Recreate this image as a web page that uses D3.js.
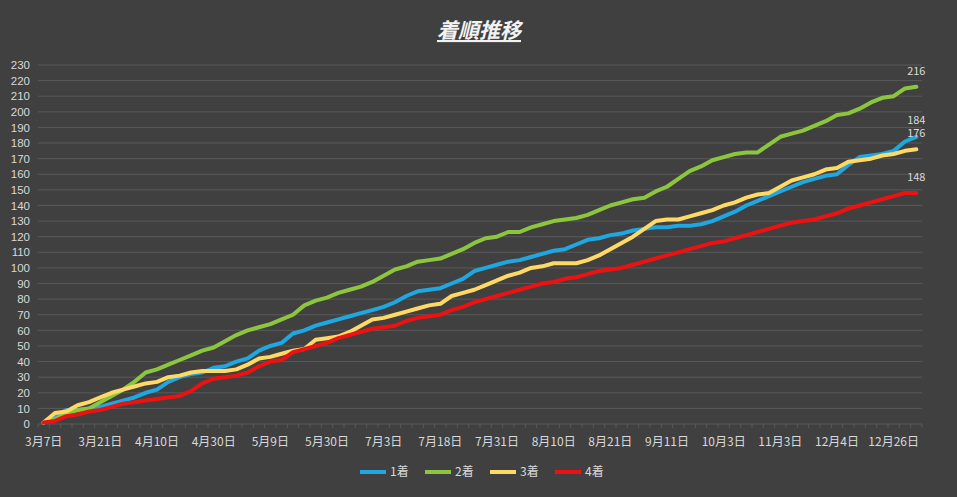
<!DOCTYPE html><html><head><meta charset="utf-8">
<script src="https://cdn.jsdelivr.net/npm/d3@7"></script>
<style>body{margin:0;background:#404040}svg{display:block}</style></head><body>
<script>
const tickLabels=["3月7日","3月21日","4月10日","4月30日","5月9日","5月30日","7月3日","7月18日","7月31日","8月10日","8月21日","9月11日","10月3日","11月3日","12月4日","12月26日"];
const seriesNames=["1着","2着","3着","4着"];
const s1=[1,4,9,9,10,11,13,15,17,20,22,27,30,32,33,36,37,40,42,47,50,52,58,60,63,65,67,69,71,73,75,78,82,85,86,87,90,93,98,100,102,104,105,107,109,111,112,115,118,119,121,122,124,125,126,126,127,127,128,130,133,136,140,143,146,149,152,155,157,159,160,166,171,172,173,175,181,184];
const s2=[1,3,7,9,10,14,18,22,27,33,35,38,41,44,47,49,53,57,60,62,64,67,70,76,79,81,84,86,88,91,95,99,101,104,105,106,109,112,116,119,120,123,123,126,128,130,131,132,134,137,140,142,144,145,149,152,157,162,165,169,171,173,174,174,179,184,186,188,191,194,198,199,202,206,209,210,215,216];
const s3=[1,7,8,12,14,17,20,22,24,26,27,30,31,33,34,34,34,35,38,42,43,45,47,48,54,55,56,59,63,67,68,70,72,74,76,77,82,84,86,89,92,95,97,100,101,103,103,103,105,108,112,116,120,125,130,131,131,133,135,137,140,142,145,147,148,152,156,158,160,163,164,168,169,170,172,173,175,176];
const s4=[1,2,5,6,8,9,11,13,14,15,16,17,18,21,26,29,30,31,33,37,40,41,46,48,50,52,55,57,59,61,62,63,66,68,69,70,73,75,78,80,82,84,86,88,90,91,93,94,96,98,99,100,102,104,106,108,110,112,114,116,117,119,121,123,125,127,129,130,131,133,135,138,140,142,144,146,148,148];
const colors=["#1ea7e1","#8cc63f","#ffd966","#ee1111"];
const series=[s1,s2,s3,s4];
const W=957,H=497,L=38,R=922,T=65,B=424;
const svg=d3.select("body").append("svg").attr("width",W).attr("height",H).style("font-family","'Noto Sans CJK JP',sans-serif");
svg.append("rect").attr("width",W).attr("height",H).attr("fill","#404040");
const n=s1.length;
const x=d3.scaleBand().domain(d3.range(n)).range([L,R]);
const y=d3.scaleLinear().domain([0,230]).range([B,T]);
const cx=i=>x(i)+x.bandwidth()/2;
svg.append("g").selectAll("line").data(d3.range(10,231,10)).join("line")
 .attr("x1",L).attr("x2",R).attr("y1",d=>y(d)).attr("y2",d=>y(d)).attr("stroke","#595959").attr("stroke-width",1);
const ya=svg.append("g").attr("transform",`translate(${L-4},0)`).call(d3.axisLeft(y).tickValues(d3.range(0,231,10)).tickSize(0).tickPadding(4));
ya.select(".domain").remove();
ya.selectAll("text").attr("fill","#d9d9d9").attr("font-size",11.5);
svg.append("line").attr("x1",L).attr("x2",R).attr("y1",B).attr("y2",B).attr("stroke","#595959");
svg.append("g").selectAll("line").data(d3.range(n+1)).join("line")
 .attr("x1",i=>L+i*x.step()).attr("x2",i=>L+i*x.step()).attr("y1",B).attr("y2",B+4).attr("stroke","#595959");
svg.append("g").selectAll("text").data(tickLabels).join("text")
 .attr("x",(d,i)=>cx(i*5)).attr("y",B+22).attr("text-anchor","middle").attr("fill","#d9d9d9").attr("font-size",12).text(d=>d);
const line=d3.line().x((d,i)=>cx(i)).y(d=>y(d));
svg.append("g").selectAll("path").data(series).join("path").attr("d",line)
 .attr("fill","none").attr("stroke",(d,i)=>colors[i]).attr("stroke-width",4).attr("stroke-linejoin","round").attr("stroke-linecap","round");
const offs=[-13,-12,-12,-12];
svg.append("g").selectAll("text").data(series).join("text")
 .attr("x",cx(n-1)).attr("y",(d,i)=>y(d[n-1])+offs[i]).attr("text-anchor","middle").attr("fill","#d9d9d9").attr("font-size",11).text(d=>d[n-1]);
svg.append("text").attr("x",479).attr("y",38).attr("text-anchor","middle").attr("fill","#f2f2f2")
 .attr("font-size",21).attr("font-weight","bold").attr("font-style","italic").attr("text-decoration","underline").text("着順推移");
const lg=svg.append("g").selectAll("g").data(seriesNames).join("g").attr("transform",(d,i)=>`translate(${360+i*65},472)`);
lg.append("line").attr("x1",0).attr("x2",26).attr("stroke",(d,i)=>colors[i]).attr("stroke-width",4);
lg.append("text").attr("x",30).attr("y",4).attr("fill","#d9d9d9").attr("font-size",12).text(d=>d);
</script></body></html>
